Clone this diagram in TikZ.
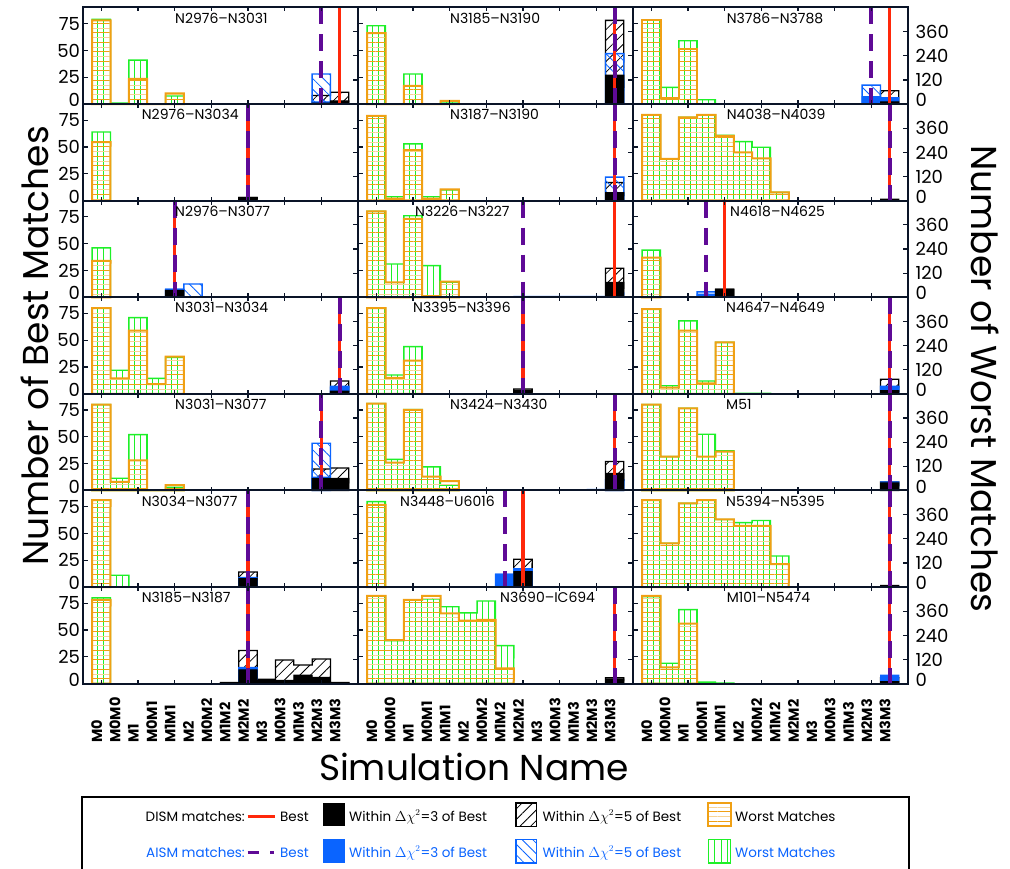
\documentclass[tikz,border=0pt]{standalone}
\usepackage{fontspec}
\setmainfont{Poppins}
\usetikzlibrary{patterns.meta}
\definecolor{cred}{RGB}{255,40,10}
\definecolor{cpurple}{RGB}{95,10,150}
\definecolor{cblue}{RGB}{10,100,255}
\definecolor{corange}{RGB}{240,160,20}
\definecolor{cgreen}{RGB}{30,240,40}
\definecolor{cframe}{RGB}{10,20,40}
\tikzset{
 pnl/.style 2 args={shift={({101.333+275*#1},{764.9-96.6*#2})},xscale=18.333,yscale=1.07333},
 wG/.style={draw=cgreen,line width=1.4pt,pattern={Lines[angle=90,distance=6.11pt,line width=0.9pt]},pattern color=cgreen},
 wOa/.style={pattern={Lines[angle=0,distance=9.5pt,yshift=4.75pt,line width=0.9pt]},pattern color=corange!45},
 wOb/.style={draw=corange,line width=2pt,pattern={Lines[angle=0,distance=9.5pt,line width=1pt]},pattern color=corange},
 hK/.style={draw=black,line width=1.3pt,pattern={Lines[angle=45,distance=7.5pt,line width=0.8pt]},pattern color=black},
 hB/.style={draw=cblue,line width=1.4pt,pattern={Lines[angle=-45,distance=7.5pt,line width=0.8pt]},pattern color=cblue},
 fK/.style={fill=black,draw=black,line width=1pt},
 fB/.style={fill=cblue,draw=cblue,line width=1pt},
 bestD/.style={cred,line width=3.3pt},
 bestA/.style={cpurple,line width=4pt,dash pattern=on 17pt off 10pt},
 pfr/.style={draw=cframe,line width=2pt},
 tk/.style={cframe,line width=1.2pt},
 lbl/.style={font=\fontsize{18}{18}\selectfont,inner sep=0pt},
 ttl/.style={font=\fontsize{14}{14}\selectfont,inner sep=0pt,anchor=west},
 xlab/.style={font=\bfseries\fontsize{14.5}{14.5}\selectfont,inner sep=0pt,rotate=90,anchor=west},
 bigt/.style={font=\fontsize{36}{36}\selectfont,inner sep=0pt},
 leg/.style={font=\fontsize{13.5}{13.5}\selectfont,inner sep=0pt},
}
\newcommand\hs[3]{\path[#1] (#2-0.5,0) \foreach \h [count=\i from #2] in {#3} {-- (\i-0.5,\h) -- (\i+0.5,\h) coordinate (hE)} -- (hE |- hO) -- cycle;}
\newcommand\wo[1]{\hs{wOa}{0}{#1}\hs{wOb}{0}{#1}}
\newcommand\pn[5]{\begin{scope}[pnl={#1}{#2}]\coordinate (hO) at (0,0);#5
\draw[bestD] (#3,0) -- (#3,90);
\draw[bestA] (#4,90) -- (#4,0);
\draw[pfr] (-1,0) rectangle (14,90);
\foreach \t in {25,50,75}{\draw[tk] (-1,\t) -- (-0.72,\t);}
\foreach \t in {22.5,45,67.5}{\draw[tk] (14,\t) -- (13.72,\t);}
\foreach \b in {0,2,...,12}{\draw[tk] (\b,0) -- (\b,3.7); \draw[tk] (\b,90) -- (\b,86.3);}
\end{scope}}
\begin{document}
\begin{tikzpicture}[x=1pt,y=1pt]
\useasboundingbox (0,0) rectangle (1010,869);
\fill[white] (0,0) rectangle (1010,869);
% column 1
\pn{0}{0}{13}{12}{\hs{wG}{0}{79,1,41,0,7.5}\wo{78,0,23.5,0,10}\hs{hK}{12}{8,11}\hs{hB}{12}{28}\hs{fB}{12}{2}\hs{fK}{12}{1,3}}
\pn{0}{1}{8}{8}{\hs{wG}{0}{64}\wo{54.5}\hs{hK}{8}{3}\hs{fK}{8}{3}}
\pn{0}{2}{4}{4}{\hs{wG}{0}{46}\wo{34}\hs{hK}{4}{6.5}\hs{hB}{4}{7.5,12.4}\hs{fB}{4}{7.5}\hs{fK}{4}{6.5}}
\pn{0}{3}{13}{13}{\hs{wG}{0}{80,22,71,14.5,34}\wo{80,14.5,59,9,34.7}\hs{hK}{13}{12}\hs{hB}{13}{7}\hs{fB}{13}{6}\hs{fK}{13}{2.5}}
\pn{0}{4}{12}{12}{\hs{wG}{0}{80,11.4,52,0,3}\wo{80,8,28,0,5}\hs{hK}{12}{20,21}\hs{hB}{12}{44}\hs{fB}{12}{12.5}\hs{fK}{12}{11.4,11.4}}
\pn{0}{5}{8}{8}{\hs{wG}{0}{81,11}\wo{81}\hs{hK}{8}{14}\hs{fB}{8}{9}\hs{fK}{8}{8}}
\pn{0}{6}{8}{8}{\hs{wG}{0}{80}\wo{78}\hs{hK}{7}{1,31,4,22,17.4,23,1}\hs{hB}{8}{15}\hs{fB}{8}{14.5}\hs{fK}{7}{1,12.8,3,3,8,6,1}}
% column 2
\pn{1}{0}{13}{13}{\hs{wG}{0}{73,0,28,0,2}\wo{66,0,17,0,3}\hs{hK}{13}{78}\hs{hB}{13}{47}\hs{fB}{13}{22}\hs{fK}{13}{27}}
\pn{1}{1}{13}{13}{\hs{wG}{0}{79,3.7,53,3.7,10}\wo{79,2,47,2,10.6}\hs{hK}{13}{17}\hs{hB}{13}{22}\hs{fB}{13}{7}\hs{fK}{13}{7.5}}
\pn{1}{2}{13}{8}{\hs{wG}{0}{80,31,76,29.5,14}\wo{80,14,73,1,14.5}\hs{hK}{13}{27}\hs{fB}{8}{0.8,0.8,0.8,0.8,0.8,4}\hs{fK}{13}{14}}
\pn{1}{3}{8}{8}{\hs{wG}{0}{80,17.6,44}\wo{80,15,31}\hs{hK}{8}{4.5}\hs{fK}{8}{3.5}}
\pn{1}{4}{13}{13}{\hs{wG}{0}{81,29,75.5,22,5}\wo{81,26,75,13,8.8}\hs{hK}{13}{27}\hs{hB}{13}{10}\hs{fB}{12}{1,8}\hs{fK}{13}{16}}
\pn{1}{5}{8}{7}{\hs{wG}{0}{79.6}\wo{76.5}\hs{hK}{8}{26}\hs{hB}{7}{12,17}\hs{fB}{7}{12,17}\hs{fK}{8}{14.3}}
\pn{1}{6}{13}{13}{\hs{wG}{0}{81.7,40,78,79,71.7,66,77,35.4}\wo{81.7,40.7,78,81.7,65.6,58.7,59.4,14.3}\hs{hK}{13}{5.6}\hs{fK}{13}{4.5}}
% column 3
\pn{2}{0}{13}{12}{\hs{wG}{0}{78.3,15.6,59,4}\wo{78.3,5.4,51,0}\hs{hK}{13}{12.5}\hs{hB}{12}{17.7}\hs{fB}{12}{7,6}\hs{fK}{13}{2}}
\pn{2}{1}{13}{13}{\hs{wG}{0}{80,38.9,77.7,80,61,55,49.8,7.8}\wo{80,38.9,77.7,80,60.3,45,39.5,7.8}\hs{fK}{13}{1.5}}
\pn{2}{2}{4}{3}{\hs{wG}{0}{44}\wo{37}\hs{hB}{3}{5}\hs{fB}{3}{3}\hs{hK}{4}{7.5}\hs{fK}{4}{7.5}}
\pn{2}{3}{13}{13}{\hs{wG}{0}{79,7.6,68,12,48,0.5,0.5}\wo{79,5.8,59,9.9,48}\hs{hK}{13}{13.6}\hs{hB}{13}{7}\hs{fB}{13}{6.7}\hs{fK}{13}{3}}
\pn{2}{4}{13}{13}{\hs{wG}{0}{80,31.5,76.6,52.4,37}\wo{80,31.5,76.6,31.5,36.2}\hs{hK}{13}{8}\hs{fB}{13}{8}\hs{fK}{13}{7}}
\pn{2}{5}{13}{13}{\hs{wG}{0}{81,40.8,78,81,63,60,62,29}\wo{81,40.8,78,81,63,57,57,21.5}\hs{fK}{13}{1.5}}
\pn{2}{6}{13}{13}{\hs{wG}{0}{81,19,69,1.5,0.5}\wo{81.7,15.3,56}\hs{hK}{13}{5.6}\hs{fB}{13}{8}\hs{fK}{13}{2}}
% panel titles
\foreach \x/\r/\s [count=\k] in {175/0/N2976--N3031,141.7/1/N2976--N3034,175/2/N2976--N3077,175/3/N3031--N3034,175/4/N3031--N3077,141.7/5/N3034--N3077,141.7/6/N3185--N3187,
450/0/N3185--N3190,450/1/N3187--N3190,415/2/N3226--N3227,413/3/N3395--N3396,450/4/N3424--N3430,400/5/N3448--U6016,500/6/N3690--IC694,
726.7/0/N3786--N3788,726.7/1/N4038--N4039,730/2/N4618--N4625,726/3/N4647--N4649,726/4/M51,726/5/N5394--N5395,726.7/6/M101--N5474}
 {\node[ttl] (ttl\k) at (\x,{869-18-96.6*\r}) {\s};}
% axis tick labels
\foreach \r in {0,...,6}{
 \begin{scope}[pnl={0}{\r}]
  \foreach \t in {25,50,75}{\node[lbl,anchor=east] (yl\r-\t) at (-1.15,\t) {\t};}
  \node[lbl,anchor=east] (yl\r-0) at (-1.15,3.7) {0};
 \end{scope}
 \begin{scope}[pnl={2}{\r}]
  \foreach \t/\v in {22.5/120,45/240,67.5/360}{\node[lbl,anchor=west] (yr\r-\v) at (14.4,\t) {\v};}
  \node[lbl,anchor=west] (yr\r-0) at (14.4,3.7) {0};
 \end{scope}}
\foreach \c in {0,1,2}{
 \foreach \n [count=\i from 0] in {M0,M0M0,M1,M0M1,M1M1,M2,M0M2,M1M2,M2M2,M3,M0M3,M1M3,M2M3,M3M3}
  {\node[xlab] (xl\c-\i) at ({101.333+275*\c+18.333*\i-4.6},126) {\n};}}
% axis titles
\node[bigt,rotate=90] (ytl) at (35,523) {Number of Best Matches};
\node[bigt,rotate=-90] (ytr) at (985,490) {Number of Worst Matches};
\node[bigt] (xt) at (474,102) {Simulation Name};
% legend
\draw[line width=2.5pt] (82,-5) -- (82,72) -- (909,72) -- (909,-5);
\node[leg,anchor=east] (l1a) at (245,52) {DISM matches:};
\coordinate (r1a) at (247.7,52); \coordinate (r1b) at (275,52);
\draw[cred,line width=3pt] (r1a) -- (r1b);
\node[leg,anchor=west] (l1b) at (280,52) {Best};
\fill[black] (322.7,42.5) rectangle (345,66);
\node[leg,anchor=west] (l1c) at (349,52) {Within $\Delta\chi^2$=3 of Best};
\path[hK] (516,42.5) rectangle (536.7,66);
\node[leg,anchor=west] (l1d) at (542.5,52) {Within $\Delta\chi^2$=5 of Best};
\path[wOa] (708.3,42.5) rectangle (730.7,66);
\path[wOb] (708.3,42.5) rectangle (730.7,66);
\node[leg,anchor=west] (l1e) at (735,52) {Worst Matches};
\begin{scope}[cblue]
\node[leg,anchor=east,text=cblue] (l2a) at (245,16) {AISM matches:};
\coordinate (r2a) at (247.7,16); \coordinate (r2b) at (275,16);
\draw[cpurple,line width=3pt,dash pattern=on 11.3pt off 11pt on 4.3pt off 20pt] (r2a) -- (r2b);
\node[leg,anchor=west,text=cblue] (l2b) at (280,16) {Best};
\fill[cblue] (322.7,6) rectangle (345,29.5);
\node[leg,anchor=west,text=cblue] (l2c) at (349,16) {Within $\Delta\chi^2$=3 of Best};
\path[hB] (516,6) rectangle (536.7,29.5);
\node[leg,anchor=west,text=cblue] (l2d) at (542.5,16) {Within $\Delta\chi^2$=5 of Best};
\path[wG] (708.3,6) rectangle (730.7,29.5);
\node[leg,anchor=west,text=cblue] (l2e) at (735,16) {Worst Matches};
\end{scope}
\end{tikzpicture}
\end{document}
